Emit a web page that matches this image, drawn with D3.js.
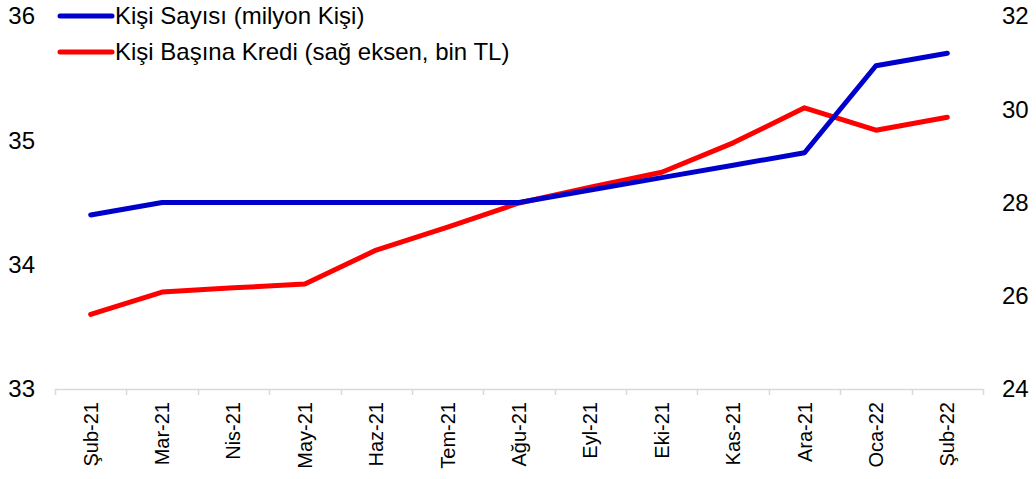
<!DOCTYPE html>
<html lang="tr">
<head>
  <meta charset="UTF-8">
  <title>Kişi Sayısı ve Kişi Başına Kredi</title>
  <style>
    body { margin: 0; background: #fff; }
    svg { display: block; font-family: Arial, "Liberation Sans", sans-serif; }
  </style>
  <script src="https://d3js.org/d3.v7.min.js"></script>
</head>
<body>
<script>
  var months = ["Şub-21","Mar-21","Nis-21","May-21","Haz-21","Tem-21","Ağu-21",
                "Eyl-21","Eki-21","Kas-21","Ara-21","Oca-22","Şub-22"];
  // left axis, milyon kişi
  var kisiSayisi = [34.4,34.5,34.5,34.5,34.5,34.5,34.5,34.6,34.7,34.8,34.9,35.6,35.7];
  // right axis, bin TL
  var kisiBasinaKredi = [25.6,26.08,26.17,26.25,26.98,27.47,27.99,28.33,28.65,29.28,30.03,29.55,29.83];
  var leftTicks = [33,34,35,36];
  var rightTicks = [24,26,28,30,32];
  var seriesNames = ["Kişi Sayısı (milyon Kişi)", "Kişi Başına Kredi (sağ eksen, bin TL)"];

  var W = 1036, H = 479;
  var plotL = 55, plotR = 983, plotT = 16, plotB = 389;

  var svg = d3.select("body").append("svg")
    .attr("width", W)
    .attr("height", H);

  var x = d3.scaleBand().domain(months).range([plotL, plotR]);
  var yL = d3.scaleLinear().domain([33, 36]).range([plotB, plotT]);
  var yR = d3.scaleLinear().domain([24, 32]).range([plotB, plotT]);

  // left labels
  svg.append("g").selectAll("text").data(leftTicks).join("text")
    .attr("x", 35).attr("y", function (d) { return yL(d); })
    .attr("dy", "0.35em").attr("text-anchor", "end")
    .attr("font-size", 24).attr("fill", "#000")
    .text(function (d) { return d; });

  // right labels
  svg.append("g").selectAll("text").data(rightTicks).join("text")
    .attr("x", 1002).attr("y", function (d) { return yR(d); })
    .attr("dy", "0.35em").attr("text-anchor", "start")
    .attr("font-size", 24).attr("fill", "#000")
    .text(function (d) { return d; });

  // x axis: ticks between the categories
  var gx = svg.append("g");
  gx.append("line")
    .attr("x1", plotL).attr("x2", plotR)
    .attr("y1", plotB + 0.5).attr("y2", plotB + 0.5)
    .attr("stroke", "#d9d9d9").attr("stroke-width", 1.5);
  var edges = months.map(function (m) { return x(m); }).concat([plotR]);
  gx.selectAll("line.tk").data(edges).join("line").attr("class", "tk")
    .attr("x1", function (d) { return Math.round(d) + 0.5; })
    .attr("x2", function (d) { return Math.round(d) + 0.5; })
    .attr("y1", plotB).attr("y2", plotB + 6)
    .attr("stroke", "#d9d9d9").attr("stroke-width", 1.5);
  gx.selectAll("text").data(months).join("text")
    .attr("transform", function (d) {
      return "translate(" + (x(d) + x.bandwidth() / 2) + "," + (plotB + 13) + ") rotate(-90)";
    })
    .attr("dy", "0.35em").attr("text-anchor", "end")
    .attr("font-size", 20).attr("fill", "#000")
    .text(function (d) { return d; });

  var cx = function (d, i) { return x(months[i]) + x.bandwidth() / 2; };

  svg.append("path").datum(kisiBasinaKredi)
    .attr("fill", "none").attr("stroke", "#ff0000").attr("stroke-width", 5)
    .attr("stroke-linejoin", "round").attr("stroke-linecap", "round")
    .attr("d", d3.line().x(cx).y(function (d) { return yR(d); }));

  svg.append("path").datum(kisiSayisi)
    .attr("fill", "none").attr("stroke", "#0000cc").attr("stroke-width", 5)
    .attr("stroke-linejoin", "round").attr("stroke-linecap", "round")
    .attr("d", d3.line().x(cx).y(function (d) { return yL(d); }));

  // legend
  var colors = ["#0000cc", "#ff0000"];
  var lg = svg.append("g").selectAll("g").data(seriesNames).join("g")
    .attr("transform", function (d, i) { return "translate(60," + (16 + i * 36) + ")"; });
  lg.append("line")
    .attr("x1", 0).attr("x2", 52).attr("y1", 0).attr("y2", 0)
    .attr("stroke", function (d, i) { return colors[i]; })
    .attr("stroke-width", 5).attr("stroke-linecap", "round");
  lg.append("text")
    .attr("x", 55).attr("dy", "0.35em")
    .attr("font-size", 24).attr("fill", "#000")
    .text(function (d) { return d; });
</script>
</body>
</html>
